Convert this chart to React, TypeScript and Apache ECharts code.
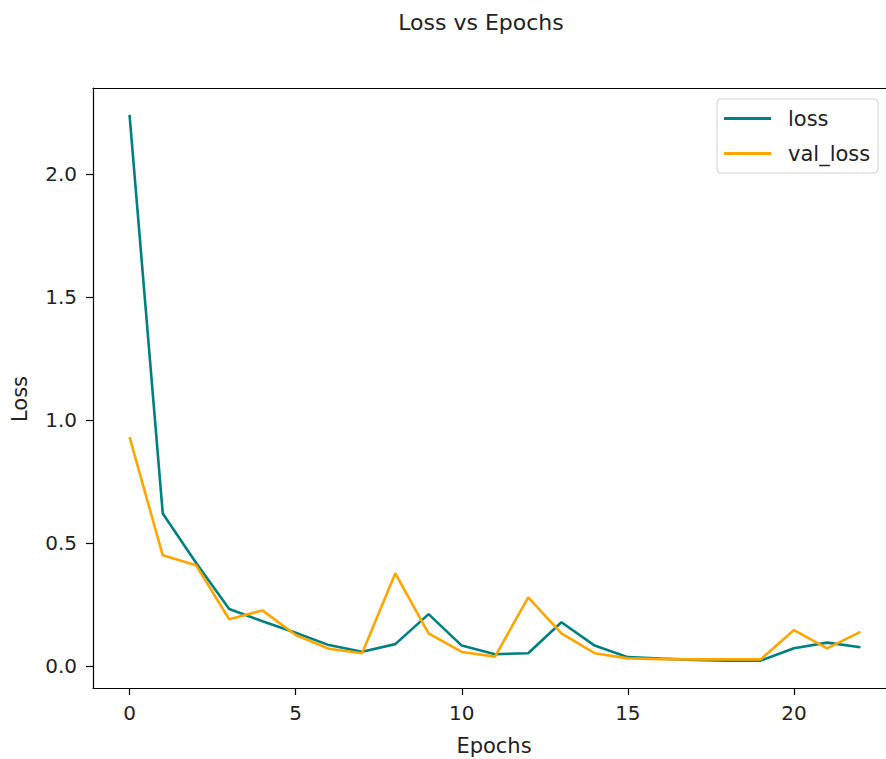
import React, { useEffect, useRef } from "react";
import * as echarts from "echarts";

const epochs = [0, 1, 2, 3, 4, 5, 6, 7, 8, 9, 10, 11, 12, 13, 14, 15, 16, 17, 18, 19, 20, 21, 22];
const lossValues = [2.24, 0.62, 0.42, 0.232, 0.182, 0.135, 0.085, 0.058, 0.089, 0.211, 0.083, 0.048, 0.052, 0.178, 0.083, 0.036, 0.03, 0.025, 0.022, 0.022, 0.072, 0.095, 0.076];
const valLossValues = [0.93, 0.45, 0.41, 0.19, 0.226, 0.126, 0.07, 0.052, 0.377, 0.133, 0.057, 0.038, 0.279, 0.133, 0.052, 0.031, 0.028, 0.027, 0.027, 0.027, 0.146, 0.072, 0.139];
const xTicks = [0, 5, 10, 15, 20];
const yTicks = [0, 0.5, 1.0, 1.5, 2.0];

const FONT = "DejaVu Sans";
const TXT = "#222";

export default function App() {
  const ref = useRef<HTMLDivElement>(null);
  useEffect(() => {
    if (!ref.current) return;
    const chart = echarts.init(ref.current, null, { renderer: "svg" });
    chart.setOption({
      animation: false,
      backgroundColor: "#ffffff",
      grid: { left: 93, top: 88, right: 0, bottom: 759 - 688, containLabel: false },
      xAxis: [
        {
          type: "value",
          min: -1.1,
          max: 22.77,
          splitLine: { show: false },
          axisLine: { show: true, onZero: false, lineStyle: { color: "#000", width: 1.2 } },
          axisTick: { show: true, inside: false, length: 7, customValues: xTicks, lineStyle: { color: "#000", width: 1.2 } },
          axisLabel: { customValues: xTicks, margin: 15, fontFamily: FONT, fontSize: 20, color: TXT },
        },
        {
          type: "value",
          position: "top",
          min: -1.1,
          max: 22.77,
          splitLine: { show: false },
          axisLine: { show: true, onZero: false, lineStyle: { color: "#000", width: 1.2 } },
          axisTick: { show: false },
          axisLabel: { show: false },
        },
      ],
      yAxis: {
        type: "value",
        min: -0.0894,
        max: 2.3496,
        splitLine: { show: false },
        axisLine: { show: true, onZero: false, lineStyle: { color: "#000", width: 1.2 } },
        axisTick: { show: true, inside: false, length: 7, customValues: yTicks, lineStyle: { color: "#000", width: 1.2 } },
        axisLabel: {
          customValues: yTicks,
          margin: 16,
          fontFamily: FONT,
          fontSize: 20,
          color: TXT,
          formatter: (v: number) => v.toFixed(1),
        },
      },
      legend: {
        left: 717,
        top: 99,
        orient: "vertical",
        icon: "rect",
        itemWidth: 47,
        itemHeight: 3,
        itemGap: 14,
        padding: [9, 8, 9, 7],
        backgroundColor: "#fff",
        borderColor: "#d0d0d0",
        borderWidth: 1,
        borderRadius: 4,
        textStyle: { fontFamily: FONT, fontSize: 21, color: TXT, padding: [0, 0, 0, 12] },
        data: [{ name: "loss" }, { name: "val_loss" }],
      },
      graphic: [
        {
          type: "text",
          x: 481,
          y: 22,
          style: { text: "Loss vs Epochs", fontFamily: FONT, fontSize: 22, fill: TXT, align: "center", verticalAlign: "middle" },
        },
        {
          type: "text",
          x: 494,
          y: 746,
          style: { text: "Epochs", fontFamily: FONT, fontSize: 21, fill: TXT, align: "center", verticalAlign: "middle" },
        },
        {
          type: "text",
          x: 20,
          y: 399,
          rotation: Math.PI / 2,
          style: { text: "Loss", fontFamily: FONT, fontSize: 21, fill: TXT, align: "center", verticalAlign: "middle" },
        },
      ],
      series: [
        {
          name: "loss",
          type: "line",
          data: epochs.map((e, i) => [e, lossValues[i]]),
          symbol: "none",
          lineStyle: { color: "#008080", width: 2.6 },
          itemStyle: { color: "#008080" },
        },
        {
          name: "val_loss",
          type: "line",
          data: epochs.map((e, i) => [e, valLossValues[i]]),
          symbol: "none",
          lineStyle: { color: "#FFA500", width: 2.6 },
          itemStyle: { color: "#FFA500" },
        },
      ],
    });
    return () => chart.dispose();
  }, []);
  return (
    <div
      ref={ref}
      style={{ position: "fixed", left: 0, top: 0, width: 886, height: 759, background: "#fff" }}
    />
  );
}
